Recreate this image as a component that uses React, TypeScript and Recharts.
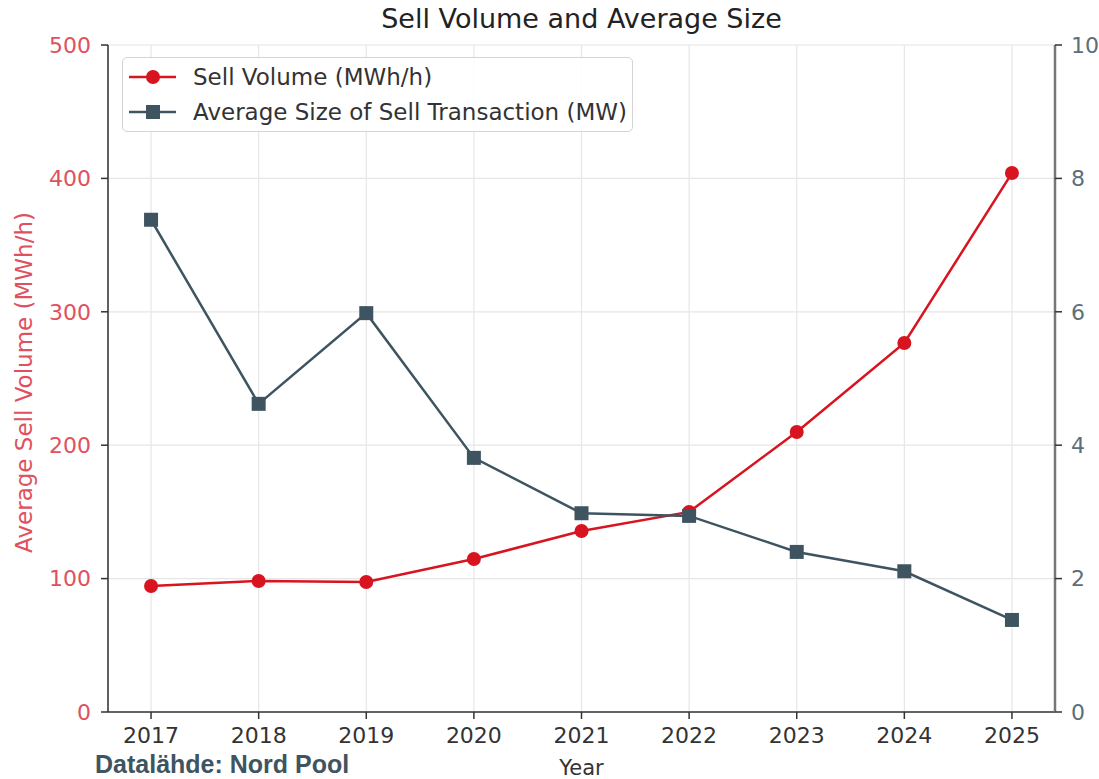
import React from 'react';
import { ComposedChart, Line, XAxis, YAxis, CartesianGrid, Legend } from 'recharts';

const years = [2017, 2018, 2019, 2020, 2021, 2022, 2023, 2024, 2025];
const sellVolume = [94.5, 98.2, 97.5, 114.7, 135.7, 150.0, 209.9, 276.6, 404.0];
const avgSize = [7.38, 4.62, 5.98, 3.81, 2.98, 2.94, 2.4, 2.11, 1.38];
const leftTicks = [0, 100, 200, 300, 400, 500];
const rightTicks = [0, 2, 4, 6, 8, 10];

const RED = '#d7141f';
const SLATE = '#3e5561';
const FONT = '"DejaVu Sans", sans-serif';

const data = years.map((y, i) => ({ year: y, sell: sellVolume[i], size: avgSize[i] }));

const SquareDot = (props: any) => {
  const { cx, cy } = props;
  if (cx == null || cy == null) return null;
  return <rect x={cx - 7} y={cy - 7} width={14} height={14} fill={SLATE} />;
};

const CircleDot = (props: any) => {
  const { cx, cy } = props;
  if (cx == null || cy == null) return null;
  return <circle cx={cx} cy={cy} r={7} fill={RED} />;
};

const LegendBox = () => (
  <div
    style={{
      width: 511,
      height: 75,
      boxSizing: 'border-box',
      border: '1px solid #d4d4d4',
      borderRadius: 5,
      background: 'rgba(255,255,255,0.85)',
      fontFamily: FONT,
      fontSize: 23,
      color: '#333',
      position: 'relative',
    }}
  >
    {[
      { label: 'Sell Volume (MWh/h)', color: RED, shape: 'circle', top: 19 },
      { label: 'Average Size of Sell Transaction (MW)', color: SLATE, shape: 'square', top: 54 },
    ].map((it) => (
      <div key={it.label} style={{ position: 'absolute', left: 0, top: it.top - 15, height: 30, display: 'flex', alignItems: 'center' }}>
        <svg width={60} height={30} style={{ marginLeft: 5 }}>
          <line x1={1} y1={15} x2={48} y2={15} stroke={it.color} strokeWidth={2.5} />
          {it.shape === 'circle' ? (
            <circle cx={25} cy={15} r={7} fill={it.color} />
          ) : (
            <rect x={18} y={8} width={14} height={14} fill={it.color} />
          )}
        </svg>
        <span style={{ marginLeft: 5, whiteSpace: 'nowrap' }}>{it.label}</span>
      </div>
    ))}
  </div>
);

export default function App() {
  return (
    <div style={{ position: 'absolute', left: 0, top: 0, width: 1099, height: 779, overflow: 'hidden', background: '#fff' }}>
      <div
        style={{
          position: 'absolute',
          left: 108,
          width: 947,
          top: 3,
          textAlign: 'center',
          fontFamily: FONT,
          fontSize: 27,
          color: '#222',
        }}
      >
        Sell Volume and Average Size
      </div>
      <ComposedChart width={1099} height={779} data={data} margin={{ top: 45, right: 0, bottom: 0, left: 0 }}>
        <CartesianGrid yAxisId="left" stroke="#e6e6e6" strokeWidth={1.2} />
        <XAxis
          dataKey="year"
          type="number"
          domain={[2016.6, 2025.4]}
          allowDataOverflow
          ticks={years}
          height={67}
          tickSize={7}
          tickMargin={8}
          tick={{ fill: '#333', fontSize: 22, fontFamily: FONT }}
          axisLine={{ stroke: '#333', strokeWidth: 1.5 }}
          tickLine={{ stroke: '#333', strokeWidth: 1.5 }}
          label={{
            content: (p: any) => {
              const vb = p.viewBox;
              return (
                <text x={vb.x + vb.width / 2} y={vb.y + 63} textAnchor="middle" fontFamily={FONT} fontSize={21} fill="#333">
                  Year
                </text>
              );
            },
          }}
        />
        <XAxis
          xAxisId="top"
          orientation="top"
          dataKey="year"
          type="number"
          domain={[2016.6, 2025.4]}
          allowDataOverflow
          height={0}
          tick={false}
          tickLine={false}
          axisLine={{ stroke: '#333', strokeWidth: 1.5 }}
        />
        <YAxis
          yAxisId="left"
          domain={[0, 500]}
          ticks={leftTicks}
          width={108}
          tickSize={7}
          tickMargin={10}
          tick={{ fill: '#e0505e', fontSize: 22, fontFamily: FONT }}
          axisLine={{ stroke: '#333', strokeWidth: 1.5 }}
          tickLine={{ stroke: '#333', strokeWidth: 1.5 }}
          label={{
            content: (p: any) => {
              const vb = p.viewBox;
              const cx = vb.x + 24;
              const cy = vb.y + vb.height / 2 + 4;
              return (
                <text
                  x={cx}
                  y={cy}
                  transform={`rotate(-90 ${cx} ${cy})`}
                  textAnchor="middle"
                  dominantBaseline="central"
                  fontFamily={FONT}
                  fontSize={23}
                  fill="#e0505e"
                >
                  Average Sell Volume (MWh/h)
                </text>
              );
            },
          }}
        />
        <YAxis
          yAxisId="right"
          orientation="right"
          domain={[0, 10]}
          ticks={rightTicks}
          width={44}
          tickSize={7}
          tickMargin={9}
          tick={{ fill: '#5b6f7a', fontSize: 22, fontFamily: FONT }}
          axisLine={{ stroke: '#777', strokeWidth: 2.5 }}
          tickLine={{ stroke: '#333', strokeWidth: 1.5 }}
        />
        <Legend
          layout="vertical"
          align="center"
          verticalAlign="middle"
          wrapperStyle={{ position: 'absolute', left: 122, top: 57, width: 511, height: 75 }}
          content={() => <LegendBox />}
        />
        <Line
          yAxisId="left"
          dataKey="sell"
          stroke={RED}
          strokeWidth={2.5}
          dot={<CircleDot />}
          activeDot={false}
          isAnimationActive={false}
          legendType="circle"
          name="Sell Volume (MWh/h)"
        />
        <Line
          yAxisId="right"
          dataKey="size"
          stroke={SLATE}
          strokeWidth={2.5}
          dot={<SquareDot />}
          activeDot={false}
          isAnimationActive={false}
          legendType="square"
          name="Average Size of Sell Transaction (MW)"
        />
      </ComposedChart>
      <div
        style={{
          position: 'absolute',
          left: 95,
          top: 750,
          lineHeight: '28px',
          fontFamily: '"Liberation Sans", Arial, sans-serif',
          fontWeight: 'bold',
          fontSize: 25,
          color: SLATE,
          whiteSpace: 'nowrap',
        }}
      >
        Datalähde: Nord Pool
      </div>
    </div>
  );
}
